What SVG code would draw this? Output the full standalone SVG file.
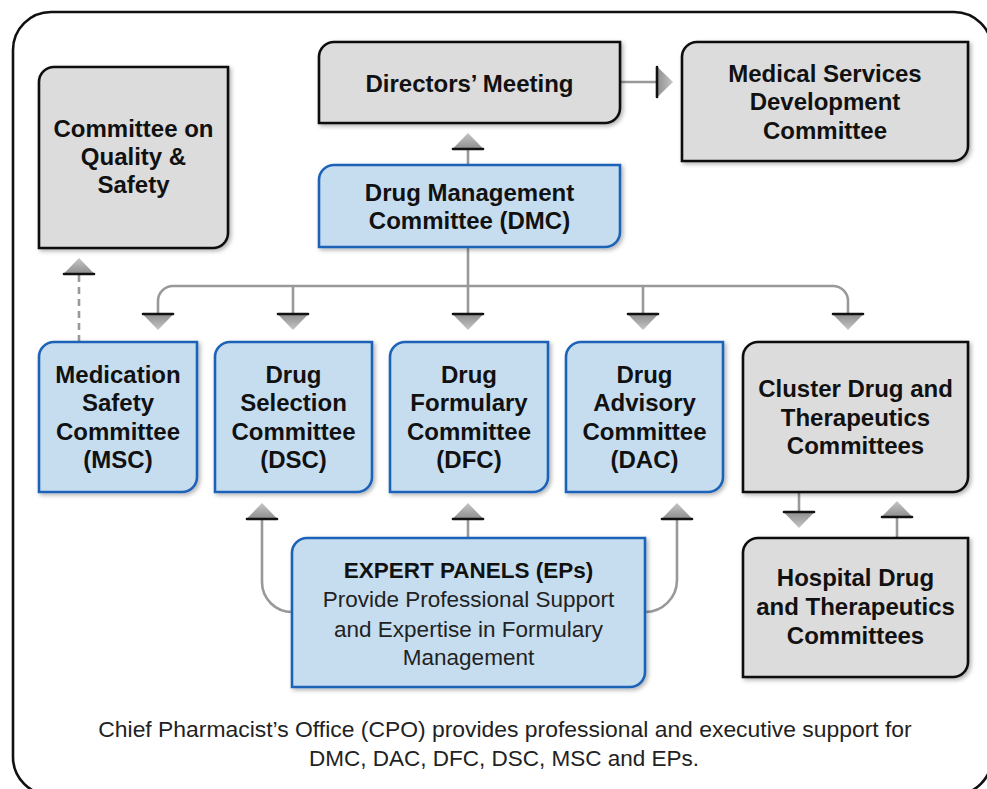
<svg xmlns="http://www.w3.org/2000/svg" width="987" height="789" viewBox="0 0 987 789">
<defs>
<style>
.gray{fill:#dcdcdc;stroke:#111;stroke-width:2.6;filter:url(#sh)}
.blue{fill:#c6ddf0;stroke:#1d64b8;stroke-width:2.6;filter:url(#sh)}
.t{font-family:"Liberation Sans",Arial,sans-serif;font-weight:bold;font-size:24px;fill:#111;text-anchor:middle}
.r{font-family:"Liberation Sans",Arial,sans-serif;font-weight:normal;font-size:22.5px;fill:#222;text-anchor:middle}
.c{fill:none;stroke:#999;stroke-width:2.6}
.dash{stroke-dasharray:7 5}
</style>
<filter id="sh" x="-10%" y="-10%" width="125%" height="125%">
<feDropShadow dx="2" dy="2" stdDeviation="2" flood-color="#000" flood-opacity="0.3"/>
</filter>
<linearGradient id="ag" x1="0" y1="0" x2="1" y2="0">
<stop offset="0" stop-color="#8e8e8e"/>
<stop offset="1" stop-color="#c6c6c6"/>
</linearGradient>
<marker id="ah" markerUnits="userSpaceOnUse" orient="auto" viewBox="-3 -17 21 34" refX="0" refY="0" markerWidth="21" markerHeight="34" overflow="visible">
<path d="M0,-15.5 L16,0 L0,15.5 Z" fill="url(#ag)"/>
<line x1="0" y1="-15" x2="0" y2="15" stroke="#111" stroke-width="2.6" stroke-linecap="round"/>
</marker>
</defs>
<rect x="0" y="0" width="987" height="789" fill="#fff"/>
<rect x="13" y="12" width="979" height="783" rx="38" ry="38" fill="none" stroke="#111" stroke-width="2.6"/>

<g id="connectors">
<path class="c" d="M468,165 V149" marker-end="url(#ah)"/>
<path class="c" d="M620,82 H657" marker-end="url(#ah)"/>
<path class="c" d="M468,247 V314" marker-end="url(#ah)"/>
<path class="c" d="M468,286 H173 A15,15 0 0 0 158,301 V314" marker-end="url(#ah)"/>
<path class="c" d="M468,286 H833 A15,15 0 0 1 848,301 V314" marker-end="url(#ah)"/>
<path class="c" d="M293,286 V314" marker-end="url(#ah)"/>
<path class="c" d="M643,286 V314" marker-end="url(#ah)"/>
<path class="c dash" d="M79,342 V274" marker-end="url(#ah)"/>
<path class="c" d="M799,492 V512" marker-end="url(#ah)"/>
<path class="c" d="M897,538 V517" marker-end="url(#ah)"/>
<path class="c" d="M292,612 A30,30 0 0 1 262,582 V519" marker-end="url(#ah)"/>
<path class="c" d="M468,538 V519" marker-end="url(#ah)"/>
<path class="c" d="M645,612 A32,32 0 0 0 677,580 V519" marker-end="url(#ah)"/>
</g>

<g id="directors-meeting">
<path class="gray" d="M319,57 A15,15 0 0 1 334,42 H620 V108 A15,15 0 0 1 605,123 H319 Z"/>
<text class="t" x="469.5" y="92">Directors’ Meeting</text>
</g>
<g id="msdc">
<path class="gray" d="M682,57 A15,15 0 0 1 697,42 H968 V146 A15,15 0 0 1 953,161 H682 Z"/>
<text class="t" x="825" y="82">Medical Services</text>
<text class="t" x="825" y="110">Development</text>
<text class="t" x="825" y="139">Committee</text>
</g>
<g id="dmc">
<path class="blue" d="M319,180 A15,15 0 0 1 334,165 H620 V232 A15,15 0 0 1 605,247 H319 Z"/>
<text class="t" x="469.5" y="201">Drug Management</text>
<text class="t" x="469.5" y="229">Committee (DMC)</text>
</g>
<g id="cqs">
<path class="gray" d="M39,82 A15,15 0 0 1 54,67 H228 V233 A15,15 0 0 1 213,248 H39 Z"/>
<text class="t" x="133.5" y="137">Committee on</text>
<text class="t" x="133.5" y="165">Quality &amp;</text>
<text class="t" x="133.5" y="193">Safety</text>
</g>
<g id="msc">
<path class="blue" d="M39,357 A15,15 0 0 1 54,342 H197 V477 A15,15 0 0 1 182,492 H39 Z"/>
<text class="t" x="118" y="383">Medication</text>
<text class="t" x="118" y="411">Safety</text>
<text class="t" x="118" y="440">Committee</text>
<text class="t" x="118" y="468">(MSC)</text>
</g>
<g id="dsc">
<path class="blue" d="M215,357 A15,15 0 0 1 230,342 H372 V477 A15,15 0 0 1 357,492 H215 Z"/>
<text class="t" x="293.5" y="383">Drug</text>
<text class="t" x="293.5" y="411">Selection</text>
<text class="t" x="293.5" y="440">Committee</text>
<text class="t" x="293.5" y="468">(DSC)</text>
</g>
<g id="dfc">
<path class="blue" d="M390,357 A15,15 0 0 1 405,342 H548 V477 A15,15 0 0 1 533,492 H390 Z"/>
<text class="t" x="469" y="383">Drug</text>
<text class="t" x="469" y="411">Formulary</text>
<text class="t" x="469" y="440">Committee</text>
<text class="t" x="469" y="468">(DFC)</text>
</g>
<g id="dac">
<path class="blue" d="M566,357 A15,15 0 0 1 581,342 H723 V477 A15,15 0 0 1 708,492 H566 Z"/>
<text class="t" x="644.5" y="383">Drug</text>
<text class="t" x="644.5" y="411">Advisory</text>
<text class="t" x="644.5" y="440">Committee</text>
<text class="t" x="644.5" y="468">(DAC)</text>
</g>
<g id="cluster">
<path class="gray" d="M743,357 A15,15 0 0 1 758,342 H968 V477 A15,15 0 0 1 953,492 H743 Z"/>
<text class="t" x="855.5" y="397">Cluster Drug and</text>
<text class="t" x="855.5" y="426">Therapeutics</text>
<text class="t" x="855.5" y="454">Committees</text>
</g>
<g id="hospital">
<path class="gray" d="M743,553 A15,15 0 0 1 758,538 H968 V662 A15,15 0 0 1 953,677 H743 Z"/>
<text class="t" x="855.5" y="586">Hospital Drug</text>
<text class="t" x="855.5" y="615">and Therapeutics</text>
<text class="t" x="855.5" y="644">Committees</text>
</g>
<g id="ep">
<path class="blue" d="M292,553 A15,15 0 0 1 307,538 H645 V672 A15,15 0 0 1 630,687 H292 Z"/>
<text class="t" x="468.5" y="578" style="font-size:22.5px">EXPERT PANELS (EPs)</text>
<text class="r" x="468.5" y="607">Provide Professional Support</text>
<text class="r" x="468.5" y="637">and Expertise in Formulary</text>
<text class="r" x="468.5" y="665">Management</text>
</g>
<g id="footer">
<text class="r" x="505" y="737" style="font-size:22.9px">Chief Pharmacist’s Office (CPO) provides professional and executive support for</text>
<text class="r" x="504" y="766">DMC, DAC, DFC, DSC, MSC and EPs.</text>
</g>
</svg>
